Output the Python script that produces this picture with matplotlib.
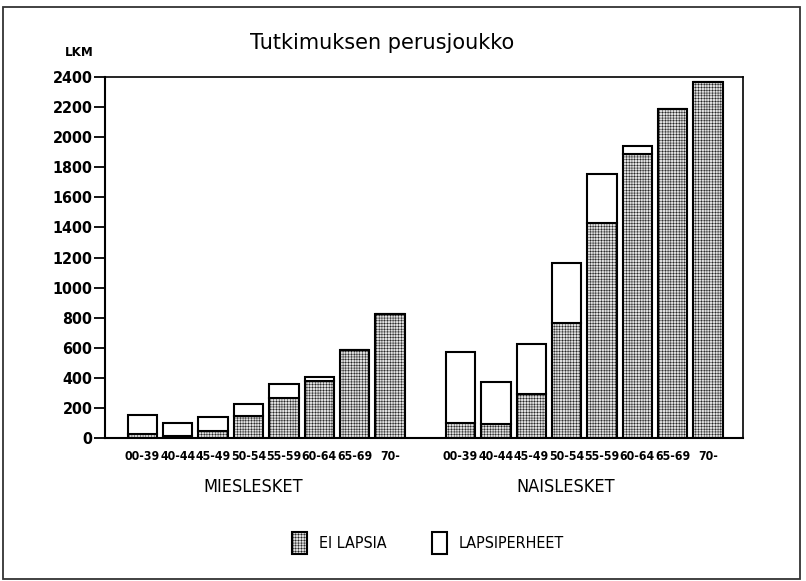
import numpy as np
import matplotlib
matplotlib.use("Agg")
import matplotlib.pyplot as plt
from matplotlib.patches import Rectangle

# ikaryhmat ja luvut (luettu kuvasta)
ages = ["00-39", "40-44", "45-49", "50-54", "55-59", "60-64", "65-69", "70-"]
groups = ["MIESLESKET", "NAISLESKET"]
mies_ei_lapsia = [27, 11, 49, 149, 263, 381, 584, 826]
mies_lapsiperheet = [127, 86, 88, 80, 97, 27, 0, 0]
nais_ei_lapsia = [102, 92, 290, 763, 1431, 1885, 2185, 2365]
nais_lapsiperheet = [473, 283, 337, 399, 323, 58, 0, 0]
yticks = list(range(0, 2401, 200))

narrow = ["DejaVu Sans Condensed", "Liberation Sans Narrow", "DejaVu Sans"]
plt.rcParams["hatch.linewidth"] = 0.3

fig = plt.figure(figsize=(8.06, 5.81), dpi=100)
ax = fig.add_axes([105 / 806, 1 - 438 / 581, (743 - 105) / 806, (438 - 77) / 581])

n = len(ages)
x_m = np.arange(n)
x_n = np.arange(n) + n + 1
x = np.concatenate([x_m, x_n])
lower = np.array(mies_ei_lapsia + nais_ei_lapsia)
upper = np.array(mies_lapsiperheet + nais_lapsiperheet)

w = 0.83
b1 = ax.bar(x, lower, w, color="#e0e0e0", edgecolor="black", linewidth=1.5,
            hatch="++++++", label="EI LAPSIA")
b2 = ax.bar(x, upper, w, bottom=lower, color="white", edgecolor="black",
            linewidth=1.5, label="LAPSIPERHEET")

ax.set_xlim(-1.06, 2 * n + 0.99)
ax.set_ylim(0, 2400)
ax.set_yticks(yticks)
ax.set_yticklabels([str(t) for t in yticks], family=narrow, fontstretch="condensed",
                   fontweight="bold", fontsize=11.5)
ax.set_xticks(x)
ax.set_xticklabels(ages * 2, family=narrow, fontstretch="condensed",
                   fontweight="bold", fontsize=8.8)
ax.tick_params(axis="y", direction="out", length=8, width=1.3, pad=1)
ax.tick_params(axis="x", length=0, pad=9)
for s in ax.spines.values():
    s.set_linewidth(1.2)
ax.spines["left"].set_linewidth(1.5)
ax.spines["bottom"].set_linewidth(1.5)

# ryhmien nimet
fig.text(253 / 806, 1 - 487 / 581, groups[0], family=narrow, fontstretch="condensed",
         fontsize=13, ha="center", va="center")
fig.text(566 / 806, 1 - 487 / 581, groups[1], family=narrow, fontstretch="condensed",
         fontsize=13, ha="center", va="center")

fig.text(382 / 806, 1 - 43 / 581, "Tutkimuksen perusjoukko", family="DejaVu Sans",
         fontsize=15, ha="center", va="center")
fig.text(79 / 806, 1 - 52 / 581, "LKM", family=narrow, fontstretch="condensed",
         fontweight="bold", fontsize=9.5, ha="center", va="center")

leg = fig.legend(handles=[b1, b2], loc="center", bbox_to_anchor=(428 / 806, 1 - 543 / 581),
                 ncol=2, frameon=False,
                 prop={"family": narrow, "size": 11.5, "stretch": "condensed"},
                 handlelength=0.94, handleheight=1.7, handletextpad=0.75,
                 columnspacing=2.8)

fig.patches.append(Rectangle((3 / 806, 1 - 579 / 581), 797 / 806, 572 / 581,
                             transform=fig.transFigure, fill=False,
                             edgecolor="#333333", linewidth=1.3))

fig.savefig("out.png", dpi=100)
